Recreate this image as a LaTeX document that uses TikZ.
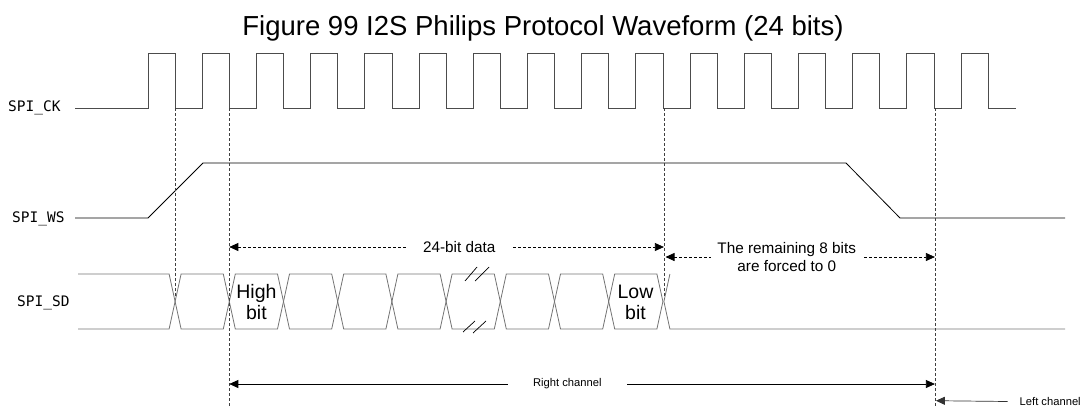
\documentclass[tikz,border=0pt]{standalone}
\usepackage{fontspec}
\setmainfont{Liberation Sans}
\newfontfamily\sinalfont{DejaVu Sans Mono}
\usetikzlibrary{arrows.meta,positioning,calc}

\begin{document}
\begin{tikzpicture}[x=1pt,y=-1pt,
    onda/.style={line width=0.8pt,color=#1},
    guia/.style={line width=0.6pt,black!75,dash pattern=on 3pt off 2pt},
    seta/.style={-{Triangle[length=9pt,width=8pt]},line width=0.7pt,color=#1},
    setadupla/.style={{Triangle[length=9pt,width=8pt]}-{Triangle[length=9pt,width=8pt]},line width=0.7pt},
    sinal/.style={font=\sinalfont\fontsize{14.5}{16}\selectfont,anchor=west,inner sep=0pt},
    rotulo/.style={font=\fontsize{15.3}{18}\selectfont,align=center,fill=white,inner ysep=1pt},
    bitlabel/.style={font=\fontsize{19.5}{21}\selectfont,align=center,inner sep=0pt},
    canal/.style={font=\fontsize{11.2}{13}\selectfont,fill=white,inner ysep=1pt}
    ]
    \useasboundingbox (0,0) rectangle (1084,407);

    % Titulo
    \node[font=\fontsize{27.5}{30}\selectfont,anchor=base] (titulo) at (543,35)
      {Figure 99 I2S Philips Protocol Waveform (24 bits)};

    % Sinais
    \node[sinal] (ck) at (8,108) {SPI\_CK};
    \node[sinal] (ws) at (12,219) {SPI\_WS};
    \node[sinal] (sd) at (17,303) {SPI\_SD};

    % SPI_CK
    \draw[onda=black!70] (75,108)
      \foreach \k [evaluate=\k as \a using {148+54.2*\k},
                   evaluate=\k as \b using {175.1+54.2*\k}] in {0,...,15}
      { -- (\a,108) -- (\a,53) -- (\b,53) -- (\b,108) } -- (1016,108);

    % SPI_WS
    \draw[onda=black] (75,218) -- (148,218) -- (203,163) -- (846,163)
      -- (900,218) -- (1065,218);

    % SPI_SD
    \draw[onda=black!55] (78,274) -- (169.1,274) -- (175.1,301.5)
      -- (169.1,329) -- (78,329);
    \foreach \j [evaluate=\j as \a using {175.1+54.2*\j},
                 evaluate=\j as \b using {229.3+54.2*\j}] in {0,...,8}
      \draw[onda=black!55] (\a,301.5) -- (\a+6,274) -- (\b-6,274) -- (\b,301.5)
        -- (\b-6,329) -- (\a+6,329) -- cycle;
    \draw[onda=black!55] (669.9,274) -- (663.9,301.5) -- (669.9,329) -- (1065,329);
    \draw[line width=0.7pt] (465,281) -- (477,267) (475,281) -- (489,267);
    \draw[line width=0.7pt] (463,332) -- (475,321) (473,333) -- (486,321);
    \node[bitlabel] (alto)  at (256.4,302) {High\\bit};
    \node[bitlabel] (baixo) at (635.5,302) {Low\\bit};

    % Guias
    \draw[guia] (175.1,108) -- (175.1,298);
    \draw[guia] (229.3,108) -- (229.3,407);
    \draw[guia] (663.9,108) -- (663.9,298);
    \draw[guia] (934.9,108) -- (934.9,407);

    % Setas
    \coordinate (d1) at (229.3,247);
    \coordinate (d2) at (663.9,247);
    \draw[setadupla,dash pattern=on 3pt off 2pt] (d1) -- node[rotulo,pos=0.529,inner xsep=17pt] (dados) {24-bit data} (d2);

    \coordinate (r1) at (665.5,257);
    \coordinate (r2) at (934.9,257);
    \draw[setadupla,dash pattern=on 3pt off 2pt] (r1) -- node[rotulo,pos=0.45,inner xsep=6pt] (resto) {The remaining 8 bits\\are forced to 0} (r2);

    \coordinate (c1) at (229.3,384);
    \coordinate (c2) at (934.9,384);
    \draw[setadupla] (c1) -- node[canal,pos=0.479,inner xsep=25pt] (direito) {Right channel} (c2);

    \node[canal,anchor=west,inner sep=0pt] (esquerdo) at (1019.5,401.5) {Left channel};
    \coordinate (e1) at (935.9,400.7);
    \draw[seta=black!80] ([xshift=-12pt]esquerdo.west) -- (e1);
  \end{tikzpicture}
\end{document}
